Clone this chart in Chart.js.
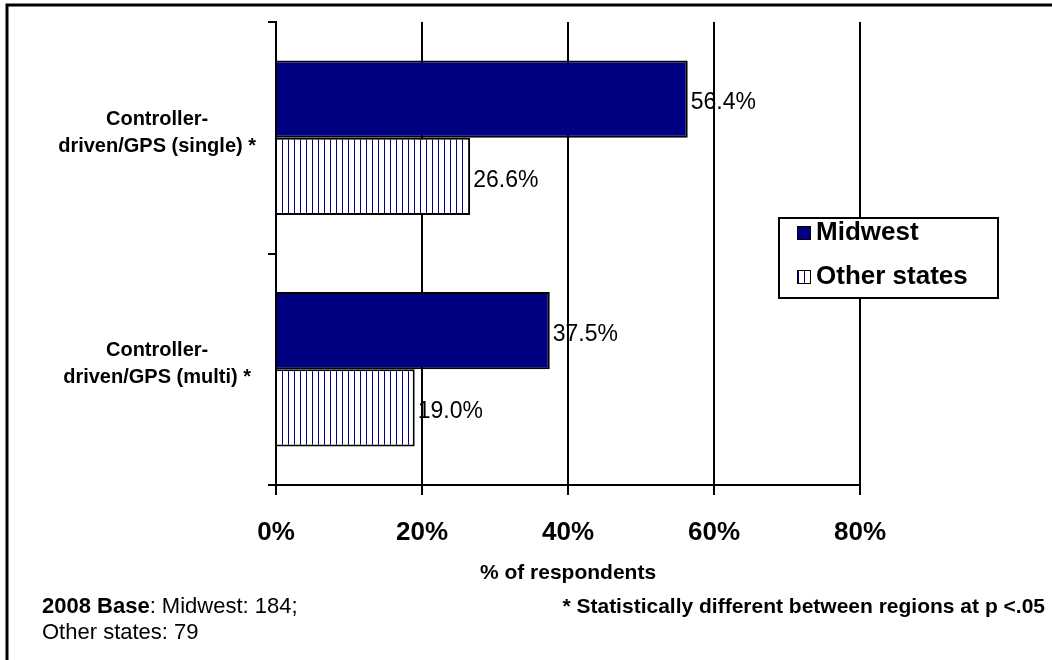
<!DOCTYPE html>
<html>
<head>
<meta charset="utf-8">
<script src="https://cdn.jsdelivr.net/npm/chart.js@4"></script>
<style>
  body { margin: 0; background: #fff; }
  #wrap { width: 1052px; height: 660px; }
</style>
</head>
<body>
<div id="wrap"><canvas id="methodChart" width="1052" height="660"></canvas></div>
<script>
// data
const categories = [
  ["Controller-", "driven/GPS (single) *"],
  ["Controller-", "driven/GPS (multi) *"]
];
const seriesNames = ["Midwest", "Other states"];
const midwest = [56.4, 37.5];
const otherStates = [26.6, 19.0];
const xTicks = [0, 20, 40, 60, 80];

const FONT = "Arial, 'Liberation Sans', sans-serif";
const NAVY = "#000080";

// vertical hatch used for the "Other states" bars
function makeHatch() {
  const c = document.createElement("canvas");
  c.width = 6; c.height = 6;
  const g = c.getContext("2d");
  g.fillStyle = "#fff";
  g.fillRect(0, 0, 6, 6);
  g.fillStyle = NAVY;
  g.fillRect(0, 0, 1, 6);
  return g.createPattern(c, "repeat");
}
const hatch = makeHatch();

const frame = {
  id: "frame",
  beforeDraw(chart) {
    const ctx = chart.ctx;
    ctx.save();
    ctx.fillStyle = "#fff";
    ctx.fillRect(0, 0, chart.width, chart.height);
    ctx.strokeStyle = "#000";
    ctx.lineWidth = 3;
    ctx.beginPath();
    ctx.moveTo(7, chart.height);
    ctx.lineTo(7, 5);
    ctx.lineTo(chart.width, 5);
    ctx.stroke();
    ctx.restore();
  }
};

const valueLabels = {
  id: "valueLabels",
  afterDatasetsDraw(chart) {
    const ctx = chart.ctx;
    ctx.save();
    ctx.font = "23px " + FONT;
    ctx.fillStyle = "#000";
    ctx.textAlign = "left";
    ctx.textBaseline = "middle";
    chart.data.datasets.forEach((ds, i) => {
      chart.getDatasetMeta(i).data.forEach((bar, j) => {
        ctx.fillText(ds.data[j].toFixed(1) + "%", bar.x + 3, bar.y + 4);
      });
    });
    ctx.restore();
  }
};

const boxLegend = {
  id: "boxLegend",
  afterDraw(chart) {
    const ctx = chart.ctx;
    const x = 779, y = 218, w = 219, h = 80;
    ctx.save();
    ctx.fillStyle = "#fff";
    ctx.fillRect(x, y, w, h);
    ctx.strokeStyle = "#000";
    ctx.lineWidth = 2;
    ctx.strokeRect(x, y, w, h);
    ctx.font = "bold 26px " + FONT;
    ctx.textBaseline = "middle";
    chart.data.datasets.forEach((ds, i) => {
      const cy = y + 14 + i * 44;
      ctx.fillStyle = ds.backgroundColor;
      ctx.fillRect(x + 18, cy - 6, 14, 14);
      ctx.strokeStyle = "#000";
      ctx.lineWidth = 1;
      ctx.strokeRect(x + 18.5, cy - 5.5, 13, 13);
      ctx.fillStyle = "#000";
      ctx.fillText(ds.label, x + 37, cy + 1);
    });
    ctx.restore();
  }
};

const footnotes = {
  id: "footnotes",
  afterDraw(chart) {
    const ctx = chart.ctx;
    ctx.save();
    ctx.fillStyle = "#000";
    ctx.textBaseline = "middle";
    ctx.font = "bold 22px " + FONT;
    ctx.fillText("2008 Base", 42, 607);
    const bw = ctx.measureText("2008 Base").width;
    ctx.font = "22px " + FONT;
    ctx.fillText(": Midwest: 184;", 42 + bw, 607);
    ctx.fillText("Other states: 79", 42, 633);
    ctx.font = "bold 21px " + FONT;
    ctx.textAlign = "right";
    ctx.fillText("* Statistically different between regions at p <.05", 1045, 607);
    ctx.restore();
  }
};

new Chart(document.getElementById("methodChart"), {
  type: "bar",
  data: {
    labels: categories,
    datasets: [
      {
        label: seriesNames[0],
        data: midwest,
        backgroundColor: NAVY,
        borderColor: "#000",
        borderWidth: 2
      },
      {
        label: seriesNames[1],
        data: otherStates,
        backgroundColor: hatch,
        borderColor: "#000",
        borderWidth: 2
      }
    ]
  },
  plugins: [frame, valueLabels, boxLegend, footnotes],
  options: {
    indexAxis: "y",
    responsive: false,
    animation: false,
    barPercentage: 1,
    categoryPercentage: 0.667,
    layout: { padding: { top: 22, right: 192, left: 0, bottom: 0 } },
    plugins: {
      legend: { display: false },
      tooltip: { enabled: false }
    },
    scales: {
      x: {
        min: 0,
        max: 80,
        afterBuildTicks: s => { s.ticks = xTicks.map(v => ({ value: v })); },
        afterFit: s => { s.height = 175; },
        ticks: {
          callback: v => v + "%",
          color: "#000",
          font: { family: FONT, size: 26, weight: "bold" },
          padding: 22,
          maxRotation: 0
        },
        grid: { color: "#000", lineWidth: 2, tickLength: 10 },
        border: { color: "#000", width: 2 },
        title: {
          display: true,
          text: "% of respondents",
          color: "#000",
          font: { family: FONT, size: 21, weight: "bold" },
          padding: { top: 0, bottom: 74 }
        }
      },
      y: {
        afterFit: s => { s.width = 276; s.paddingTop = 0; s.paddingBottom = 0; },
        ticks: {
          color: "#000",
          crossAlign: "center",
          padding: 12,
          labelOffset: -5,
          font: { family: FONT, size: 20, weight: "bold", lineHeight: 1.35 }
        },
        grid: { color: "#000", lineWidth: 2, tickLength: 8, drawOnChartArea: false, offset: true },
        border: { color: "#000", width: 2 }
      }
    }
  }
});
</script>
</body>
</html>
